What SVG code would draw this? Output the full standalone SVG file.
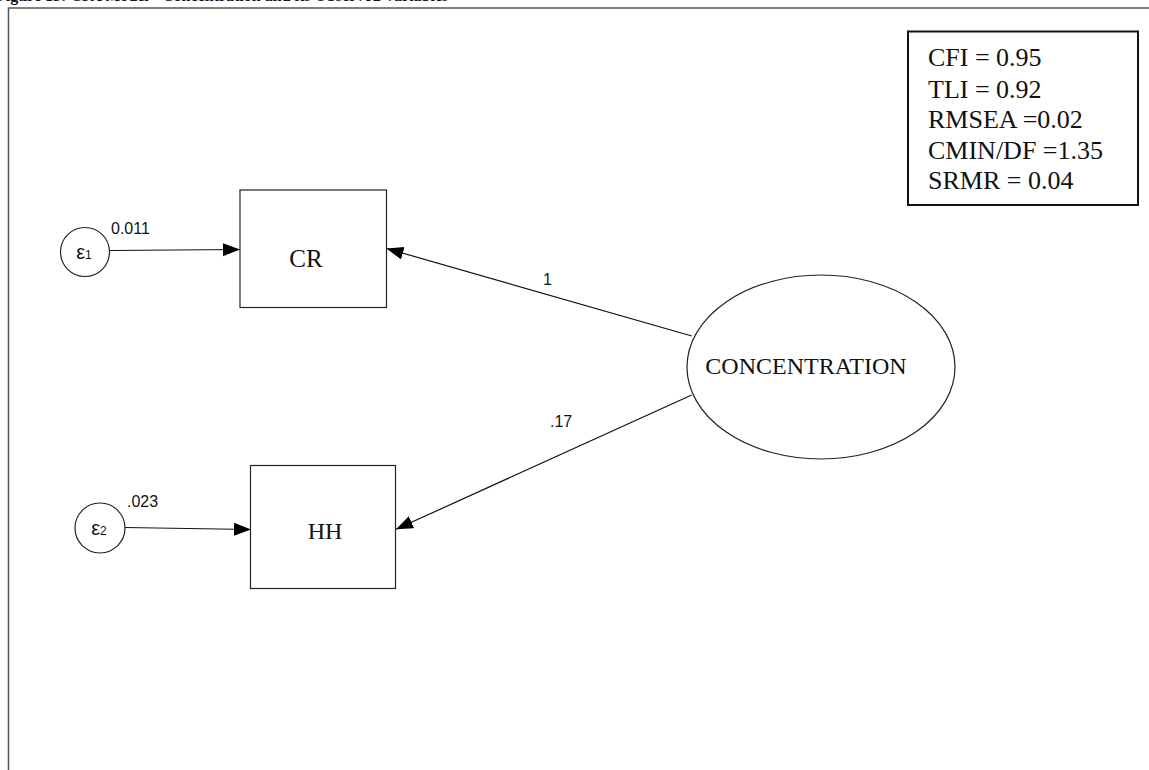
<svg xmlns="http://www.w3.org/2000/svg" width="1149" height="770" viewBox="0 0 1149 770">
<defs>
<marker id="ah" markerUnits="userSpaceOnUse" markerWidth="18" markerHeight="14" refX="17" refY="6.5" orient="auto">
<path d="M0,0 L17,6.5 L0,13 Z" fill="#000"/>
</marker>
</defs>
<style>
.shape{fill:#fff;stroke:#222;stroke-width:1.2}
.conn{stroke:#111;stroke-width:1.2;fill:none;marker-end:url(#ah)}
.serif{font-family:"Liberation Serif","Times New Roman",serif;fill:#111}
.sans{font-family:"Liberation Sans",Arial,sans-serif;fill:#111}
.frame{stroke:#555;stroke-width:1.5;fill:none}
</style>
<rect width="1149" height="770" fill="#fff"/>
<text class="serif" x="-4" y="0.5" font-size="16" font-weight="bold">Figure 13: CFA Model - Concentration and its Observed Variables</text>
<path class="frame" d="M8.5,770 V8 H1149"/>
<g id="connectors">
<line class="conn" x1="109.5" y1="250.5" x2="240" y2="249.5"/>
<line class="conn" x1="124.5" y1="527.5" x2="251" y2="529.5"/>
<line class="conn" x1="691.7" y1="336" x2="386.5" y2="248.5"/>
<line class="conn" x1="691.7" y1="395" x2="396" y2="529.3"/>
<text class="sans" x="111" y="234" font-size="16">0.011</text>
<text class="sans" x="127" y="507" font-size="16">.023</text>
<text class="sans" x="543" y="285" font-size="16">1</text>
<text class="sans" x="550" y="427" font-size="16">.17</text>
</g>
<g id="e1">
<circle class="shape" cx="85" cy="252" r="24.5"/>
<text class="sans" x="84" y="259" font-size="20" text-anchor="middle">ε<tspan font-size="12" dy="0">1</tspan></text>
</g>
<g id="e2">
<circle class="shape" cx="100" cy="528" r="25"/>
<text class="sans" x="99" y="535" font-size="20" text-anchor="middle">ε<tspan font-size="12" dy="0">2</tspan></text>
</g>
<g id="CR">
<rect class="shape" x="240" y="190" width="146.5" height="117.5"/>
<text class="serif" x="306" y="267" font-size="25" text-anchor="middle">CR</text>
</g>
<g id="HH">
<rect class="shape" x="250.5" y="465.5" width="145" height="123"/>
<text class="serif" x="325" y="539" font-size="24" text-anchor="middle">HH</text>
</g>
<g id="CONCENTRATION">
<ellipse class="shape" cx="821" cy="367" rx="134" ry="92"/>
<text class="serif" x="806" y="374" font-size="24" text-anchor="middle">CONCENTRATION</text>
</g>
<g id="fit">
<rect x="908" y="31.5" width="230" height="173.5" fill="#fff" stroke="#111" stroke-width="2"/>
<text class="serif" x="928" y="66" font-size="26">CFI = 0.95</text>
<text class="serif" x="928" y="97.5" font-size="26">TLI = 0.92</text>
<text class="serif" x="928" y="128" font-size="26">RMSEA =0.02</text>
<text class="serif" x="928" y="159" font-size="26">CMIN/DF =1.35</text>
<text class="serif" x="928" y="188.5" font-size="26">SRMR = 0.04</text>
</g>
</svg>
